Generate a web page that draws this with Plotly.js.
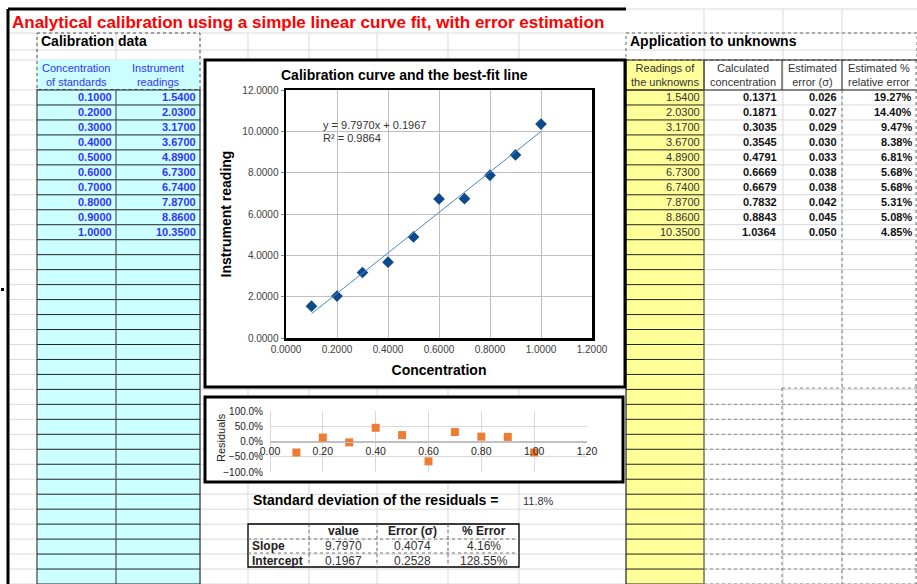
<!DOCTYPE html>
<html>
<head>
<meta charset="utf-8">
<script src="https://cdn.plot.ly/plotly-3.0.1.min.js"></script>
<style>
html,body{margin:0;padding:0;background:#fff;}
#chart{width:917px;height:584px;}
</style>
</head>
<body>
<div id="chart"></div>
<script>
// ---------------- DATA ----------------
const concentrations = [0.1, 0.2, 0.3, 0.4, 0.5, 0.6, 0.7, 0.8, 0.9, 1.0];
const readings = [1.54, 2.03, 3.17, 3.67, 4.89, 6.73, 6.74, 7.87, 8.86, 10.35];
const unknownReadings = [1.54, 2.03, 3.17, 3.67, 4.89, 6.73, 6.74, 7.87, 8.86, 10.35];
const calcConcentration = [0.1371, 0.1871, 0.3035, 0.3545, 0.4791, 0.6669, 0.6679, 0.7832, 0.8843, 1.0364];
const estimatedError = [0.026, 0.027, 0.029, 0.030, 0.033, 0.038, 0.038, 0.042, 0.045, 0.050];
const relativeErrorPct = [19.27, 14.40, 9.47, 8.38, 6.81, 5.68, 5.68, 5.31, 5.08, 4.85];
const residuals = [-0.36, 0.13, -0.03, 0.45, 0.21, -0.65, 0.31, 0.16, 0.15, -0.36];
const fitX = [0.1, 1.0];
const fitY = [1.1764, 9.9937];
const fitEquation = "y = 9.7970x + 0.1967";
const fitR2 = "R² = 0.9864";
const statRowLabels = ["Slope", "Intercept"];
const statColLabels = ["value", "Error (σ)", "% Error"];
const statValues = ["9.7970", "0.1967"];
const statErrors = ["0.4074", "0.2528"];
const statPctErrors = ["4.16%", "128.55%"];
const stdDevResiduals = "11.8%";

// ---------------- LAYOUT HELPERS ----------------
const W = 917, H = 584;
const X = px => px / W;
const Y = py => 1 - py / H;
const FONT = "Liberation Sans, Arial, sans-serif";
const NARROW = "Liberation Sans Narrow, Arial Narrow, Liberation Sans, Arial, sans-serif";
const shapes = [];
const ann = [];
function line(x0, y0, x1, y1, color, width, dash) {
  shapes.push({type:'line', xref:'paper', yref:'paper', layer:'below',
    x0:X(x0), y0:Y(y0), x1:X(x1), y1:Y(y1),
    line:{color:color, width:width, dash:dash||'solid'}});
}
function rect(x0, y0, x1, y1, fill, color, width, dash) {
  shapes.push({type:'rect', xref:'paper', yref:'paper', layer:'below',
    x0:X(x0), y0:Y(y0), x1:X(x1), y1:Y(y1), fillcolor:fill,
    line:{color:color||'rgba(0,0,0,0)', width:width||0, dash:dash||'solid'}});
}
function txt(x, y, text, size, color, xa, family, extra) {
  ann.push(Object.assign({xref:'paper', yref:'paper', x:X(x), y:Y(y), text:text,
    showarrow:false, xanchor:xa||'left', yanchor:'middle', borderpad:0,
    font:{size:size, color:color||'#000', family:family||FONT}}, extra||{}));
}

// sheet geometry
const rowTop = 90, rowH = 14.97, nRows = 33;
const rowYs = [9, 33, 50, 60];
for (let i = 0; i <= nRows; i++) rowYs.push(rowTop + i * rowH);
const colXs = [37, 116, 200, 248, 309, 377, 448, 519, 704, 783, 842];
const grid = '#D9D9D9';

// spreadsheet gridlines
rowYs.forEach(y => line(8, y, 917, y, grid, 1));
colXs.forEach(x => line(x, x > 610 ? 9 : 33, x, 584, grid, 1));

// fills
rect(37, 60, 200, 584, '#CCFFFF');
rect(626, 60, 704, 584, '#FFFF99');

// left table borders
rect(37, 33, 200, 89.5, 'rgba(0,0,0,0)', '#555', 1, 'dot');
for (let i = 0; i <= nRows; i++) {
  const y = rowTop + i * rowH;
  line(37, y, 200, y, '#222', 1);
  line(626, y, 704, y, '#222', 1);
}
line(37, 89, 37, 584, '#222', 1);
line(116, 89, 116, 584, '#555', 1.2);
line(200, 89, 200, 584, '#333', 1.2);

// right table
rect(626, 33, 917, 60, 'rgba(0,0,0,0)', '#666', 1, 'dot');
line(626, 60, 917, 60, '#222', 1);
line(626, 90, 917, 90, '#222', 1);
[704, 782, 842].forEach(x => line(x, 60, x, 90, '#222', 1));
line(916, 60, 916, 584, '#666', 1, 'dot');
line(842, 90, 842, 584, '#777', 1, 'dot');
line(782, 388, 782, 584, '#777', 1, 'dot');
line(704, 60, 704, 584, '#555', 1.2);
line(626, 60, 626, 584, '#222', 1.2);
for (let i = 21; i <= nRows; i++) {
  const y = rowTop + i * rowH;
  line(704, y, 917, y, '#888', 1, 'dot');
}
line(782, 388, 917, 388, '#888', 1, 'dot');

// sheet outer frame
line(8, 9, 626, 9, '#000', 3);
line(8, 9, 8, 584, '#000', 3);
rect(1, 288, 4, 291, '#000');

// chart frames
rect(205, 60, 625, 387, '#FFFFFF', '#000', 3);
rect(205, 397, 623, 482, '#FFFFFF', '#000', 3);

// stats table
rect(248, 524, 519, 567, 'rgba(0,0,0,0)', '#000', 1.3);
[309, 377, 448].forEach(x => line(x, 524, x, 567, '#777', 1, 'dot'));
[539, 553].forEach(y => line(248, y, 519, y, '#777', 1, 'dot'));

// ---------------- TEXT ----------------
txt(11, 23, '<b>Analytical calibration using a simple linear curve fit, with error estimation</b>', 17, '#FF0000');
txt(40, 41, '<b>Calibration data</b>', 14, '#000');
txt(629, 41, '<b>Application to unknowns</b>', 14, '#000');

const blue = '#3333FF';
txt(76.5, 75, 'Concentration<br>of standards', 11, blue, 'center');
txt(158, 75, 'Instrument<br>readings', 11, blue, 'center');
txt(665, 75, 'Readings of<br>the unknowns', 11, '#333', 'center');
txt(743, 75, 'Calculated<br>concentration', 11, '#333', 'center');
txt(812, 75, 'Estimated<br>error (σ)', 11, '#333', 'center');
txt(879, 75, 'Estimated %<br>relative error', 11, '#333', 'center');

concentrations.forEach((c, i) => {
  const yc = rowTop + (i + 0.5) * rowH;
  txt(113, yc, '<b>' + c.toFixed(4) + '</b>', 11, blue, 'right');
  txt(197, yc, '<b>' + readings[i].toFixed(4) + '</b>', 11, blue, 'right');
  txt(701, yc, unknownReadings[i].toFixed(4), 11, '#333', 'right');
  txt(778, yc, '<b>' + calcConcentration[i].toFixed(4) + '</b>', 11, '#111', 'right');
  txt(838, yc, '<b>' + estimatedError[i].toFixed(3) + '</b>', 11, '#111', 'right');
  txt(913, yc, '<b>' + relativeErrorPct[i].toFixed(2) + '%</b>', 11, '#111', 'right');
});

// chart 1 title & trendline label
txt(404, 75, '<b>Calibration curve and the best-fit line</b>', 14, '#000', 'center');
txt(322, 125, fitEquation, 11, '#333');
txt(322, 138, fitR2, 11, '#333');

// residual chart axis title
txt(221, 438, 'Residuals', 11, '#222', 'center', FONT, {textangle:-90});

// std dev & stats
txt(252, 500, '<b>Standard deviation of the residuals =</b>', 14, '#000');
txt(522, 501, stdDevResiduals, 11, '#333');
const colCenters = [343, 412, 484];
statColLabels.forEach((l, j) => txt(colCenters[j], 531, '<b>' + l + '</b>', 12, '#222', 'center', NARROW));
statRowLabels.forEach((l, i) => {
  const yc = 546 + i * 14.5;
  txt(251, yc, '<b>' + l + '</b>', 12, '#222', 'left', NARROW);
  txt(colCenters[0], yc, statValues[i], 12, '#333', 'center', NARROW);
  txt(colCenters[1], yc, statErrors[i], 12, '#333', 'center', NARROW);
  txt(colCenters[2], yc, statPctErrors[i], 12, '#333', 'center', NARROW);
});

// ---------------- TRACES ----------------
const traces = [
  {type:'scatter', mode:'markers', x:concentrations, y:readings, xaxis:'x', yaxis:'y',
   marker:{symbol:'diamond', size:9, color:'#0D4A8C'}, name:'Readings'},
  {type:'scatter', mode:'lines', x:fitX, y:fitY, xaxis:'x', yaxis:'y',
   line:{color:'#4A86C8', width:1}, name:'Linear fit'},
  {type:'scatter', mode:'markers', x:concentrations, y:residuals, xaxis:'x2', yaxis:'y2',
   marker:{symbol:'square', size:8, color:'#ED7D31'}, name:'Residuals'}
];

const layout = {
  width: W, height: H, margin:{l:0, r:0, t:0, b:0},
  paper_bgcolor:'#FFFFFF', plot_bgcolor:'rgba(0,0,0,0)',
  showlegend:false, font:{family:FONT, color:'#404040'},
  xaxis:{domain:[X(286), X(592)], anchor:'y', range:[0, 1.2], dtick:0.2, tick0:0,
    tickformat:'.4f', tickfont:{size:10, color:'#404040'},
    showgrid:true, gridcolor:'#BFBFBF', gridwidth:1, zeroline:false,
    showline:true, mirror:true, linecolor:'#000', linewidth:2.5, ticks:'',
    title:{text:'Concentration', font:{size:14, color:'#000', weight:'bold'}, standoff:12}},
  yaxis:{domain:[Y(338), Y(90)], anchor:'x', range:[0, 12], dtick:2, tick0:0,
    tickformat:'.4f', tickfont:{size:10, color:'#404040'},
    showgrid:true, gridcolor:'#BFBFBF', gridwidth:1, zeroline:false,
    showline:true, mirror:true, linecolor:'#000', linewidth:2.5, ticks:'outside', ticklen:3, tickcolor:'#888',
    title:{text:'Instrument reading', font:{size:14, color:'#000', weight:'bold'}, standoff:8}},
  xaxis2:{domain:[X(270), X(587)], anchor:'free', position:Y(441.5), range:[0, 1.2], dtick:0.2, tick0:0,
    tickformat:'.2f', tickfont:{size:10.5, color:'#222'},
    showgrid:true, gridcolor:'#D9D9D9', zeroline:true, zerolinecolor:'#D9D9D9', zerolinewidth:1,
    showline:true, linecolor:'#BFBFBF', linewidth:1, ticks:''},
  yaxis2:{domain:[Y(472), Y(411)], anchor:'x2', range:[-1, 1], dtick:0.5, tick0:0,
    tickformat:'.1%', tickfont:{size:10, color:'#222'}, ticklabelstandoff:6,
    showgrid:true, gridcolor:'#D9D9D9', zeroline:true, zerolinecolor:'#BFBFBF', zerolinewidth:1,
    showline:false, ticks:''},
  shapes: shapes,
  annotations: ann
};

Plotly.newPlot('chart', traces, layout, {displayModeBar:false, staticPlot:true});
</script>
</body>
</html>
